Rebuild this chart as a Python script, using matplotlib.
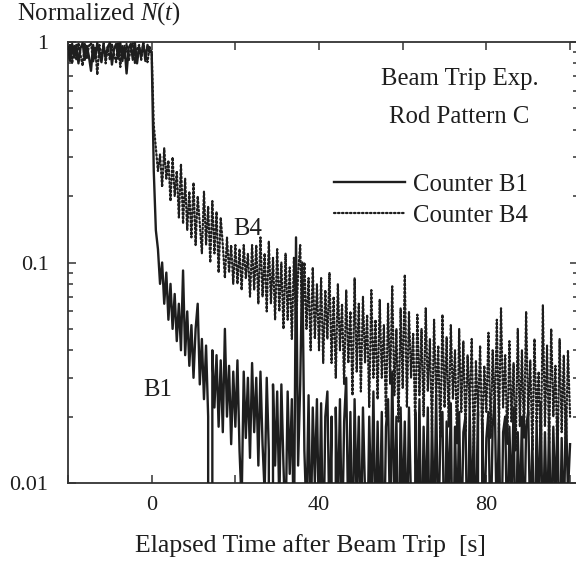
import numpy as np
import matplotlib
matplotlib.use("Agg")
import matplotlib.pyplot as plt
from matplotlib.ticker import FixedLocator, LogLocator, NullFormatter

plt.rcParams['font.family'] = ['Liberation Serif', 'DejaVu Serif']
plt.rcParams['mathtext.fontset'] = 'custom'
plt.rcParams['mathtext.rm'] = 'Liberation Serif'
plt.rcParams['mathtext.it'] = 'Liberation Serif:italic'

# time axis: -20 s .. 100 s, 0.5 s steps
time_s = np.arange(-20, 100.01, 0.5)

b1_pre = [0.95, 0.82, 0.98, 0.85, 0.97, 0.80, 0.94, 0.99, 0.83, 0.96,
          0.86, 0.74, 0.97, 0.84, 0.99, 0.88, 0.81, 0.97, 0.85, 0.95,
          0.99, 0.79, 0.93, 0.98, 0.84, 0.99, 0.82, 0.96, 0.72, 0.94,
          0.98, 0.83, 0.99, 0.80, 0.95, 0.86, 0.99, 0.82, 0.97, 0.90]
b4_pre = [0.84, 0.98, 0.80, 0.96, 0.83, 0.99, 0.87, 0.78, 0.98, 0.84,
          0.96, 0.99, 0.81, 0.95, 0.71, 0.97, 0.85, 0.99, 0.80, 0.95,
          0.83, 0.98, 0.88, 0.81, 0.99, 0.77, 0.96, 0.84, 0.98, 0.82,
          0.94, 0.99, 0.80, 0.93, 0.97, 0.83, 0.99, 0.88, 0.81, 0.95]

b1_post = [0.90, 0.26, 0.14, 0.115, 0.08, 0.10, 0.065, 0.09, 0.055, 0.08,
           0.05, 0.072, 0.044, 0.065, 0.04, 0.092, 0.038, 0.06, 0.034, 0.052,
           0.03, 0.05, 0.065, 0.028, 0.045, 0.024, 0.042, 0.02, 0.0, 0.04,
           0.022, 0.038, 0.018, 0.036, 0.017, 0.05, 0.02, 0.034, 0.015, 0.032,
           0.018, 0.036, 0.014, 0.008, 0.032, 0.016, 0.03, 0.013, 0.035, 0.017,
           0.03, 0.012, 0.032, 0.015, 0.009, 0.03, 0.014, 0.0, 0.028, 0.012,
           0.026, 0.008, 0.028, 0.012, 0.006, 0.026, 0.011, 0.024, 0.005, 0.13,
           0.012, 0.028, 0.10, 0.014, 0.007, 0.025, 0.005, 0.022, 0.01, 0.024,
           0.006, 0.023, 0.004, 0.02, 0.026, 0.006, 0.02, 0.0, 0.022, 0.007,
           0.024, 0.005, 0.019, 0.03, 0.006, 0.021, 0.004, 0.024, 0.008, 0.02,
           0.005, 0.022, 0.009, 0.004, 0.02, 0.007, 0.026, 0.005, 0.019, 0.006,
           0.021, 0.004, 0.018, 0.024, 0.006, 0.032, 0.007, 0.02, 0.003, 0.022,
           0.007, 0.019, 0.005, 0.022, 0.008, 0.0, 0.021, 0.006, 0.024, 0.004,
           0.018, 0.007, 0.022, 0.004, 0.02, 0.006, 0.025, 0.005, 0.017, 0.021,
           0.004, 0.019, 0.008, 0.023, 0.003, 0.018, 0.006, 0.021, 0.005, 0.017,
           0.02, 0.004, 0.022, 0.007, 0.018, 0.005, 0.021, 0.0, 0.019, 0.006,
           0.016, 0.021, 0.005, 0.018, 0.024, 0.006, 0.019, 0.004, 0.017, 0.02,
           0.005, 0.018, 0.008, 0.022, 0.004, 0.017, 0.007, 0.02, 0.005, 0.018,
           0.021, 0.006, 0.016, 0.004, 0.019, 0.007, 0.023, 0.005, 0.017, 0.006,
           0.019, 0.005, 0.018, 0.008, 0.02, 0.004, 0.016, 0.006, 0.022, 0.009,
           0.015]

b4_post = [0.90, 0.42, 0.33, 0.26, 0.31, 0.22, 0.33, 0.24, 0.29, 0.19,
           0.30, 0.20, 0.26, 0.16, 0.28, 0.15, 0.24, 0.14, 0.21, 0.13,
           0.23, 0.12, 0.20, 0.15, 0.11, 0.21, 0.12, 0.18, 0.10, 0.19,
           0.11, 0.17, 0.09, 0.16, 0.12, 0.085, 0.13, 0.09, 0.12, 0.08,
           0.12, 0.08, 0.115, 0.075, 0.12, 0.085, 0.11, 0.07, 0.12, 0.075,
           0.12, 0.065, 0.13, 0.07, 0.11, 0.06, 0.125, 0.065, 0.105, 0.055,
           0.115, 0.06, 0.10, 0.05, 0.11, 0.055, 0.095, 0.045, 0.105, 0.05,
           0.09, 0.12, 0.045, 0.10, 0.05, 0.085, 0.04, 0.095, 0.045, 0.08,
           0.04, 0.085, 0.035, 0.075, 0.045, 0.09, 0.035, 0.07, 0.03, 0.08,
           0.04, 0.065, 0.028, 0.075, 0.035, 0.06, 0.025, 0.085, 0.032, 0.065,
           0.026, 0.07, 0.035, 0.058, 0.022, 0.075, 0.03, 0.055, 0.024, 0.068,
           0.03, 0.052, 0.02, 0.065, 0.028, 0.078, 0.025, 0.05, 0.019, 0.062,
           0.027, 0.088, 0.022, 0.06, 0.03, 0.048, 0.018, 0.058, 0.025, 0.05,
           0.02, 0.062, 0.026, 0.045, 0.017, 0.055, 0.024, 0.042, 0.016, 0.058,
           0.022, 0.046, 0.018, 0.052, 0.024, 0.04, 0.015, 0.05, 0.021, 0.044,
           0.017, 0.038, 0.022, 0.045, 0.014, 0.036, 0.02, 0.042, 0.016, 0.034,
           0.021, 0.048, 0.016, 0.04, 0.02, 0.055, 0.017, 0.062, 0.022, 0.038,
           0.015, 0.044, 0.019, 0.035, 0.014, 0.05, 0.018, 0.04, 0.016, 0.06,
           0.02, 0.036, 0.014, 0.045, 0.019, 0.032, 0.013, 0.064, 0.018, 0.042,
           0.015, 0.05, 0.02, 0.034, 0.013, 0.045, 0.017, 0.038, 0.014, 0.04,
           0.02]

b1 = np.array(b1_pre + b1_post)
b4 = np.array(b4_pre + b4_post)

x_ticks = [-20, 0, 20, 40, 60, 80, 100]
x_labels = {0: '0', 40: '40', 80: '80'}
y_ticks = [0.01, 0.1, 1]
y_labels = ['0.01', '0.1', '1']

INK = '#1e1e1e'
fig = plt.figure(figsize=(5.76, 5.63), dpi=100)
ax = fig.add_axes([68/576, 1-483/563, (578-68)/576, (483-42)/563])

ax.plot(time_s, b4, color=INK, lw=1.6, ls=(0, (0.7, 1.1)), dash_capstyle='round',
        label='Counter B4', zorder=2)
ax.plot(time_s, b1, color=INK, lw=1.7, ls='-', label='Counter B1', zorder=3)

ax.set_yscale('log', nonpositive='clip')
ax.set_xlim(-20, 101.9)
ax.set_ylim(0.01, 1)

ax.xaxis.set_major_locator(FixedLocator(x_ticks))
ax.set_xticklabels([x_labels.get(v, '') for v in x_ticks])
ax.yaxis.set_major_locator(FixedLocator(y_ticks))
ax.set_yticklabels(y_labels)
ax.yaxis.set_minor_locator(LogLocator(base=10, subs=np.arange(2, 10)))
ax.yaxis.set_minor_formatter(NullFormatter())

ax.tick_params(which='both', direction='in', top=True, right=True, labelsize=16,
               colors='#333333', labelcolor=INK)
ax.tick_params(which='major', length=5.8, width=1.1)
ax.tick_params(which='minor', length=3.6, width=1.1)
ax.tick_params(axis='y', pad=14)
ax.tick_params(axis='x', pad=9)
for s in ax.spines.values():
    s.set_linewidth(1.3)
    s.set_color('#333333')

fig.text(310/576, 1-546/563, 'Elapsed Time after Beam Trip  [s]', fontsize=18.5,
         ha='center', va='center', color=INK)
fig.text(17/576, 1-14/563, r'Normalized $N$($t$)', fontsize=17.8, ha='left',
         va='center', color=INK)

ax.text(1.4, 0.0264, 'B1', fontsize=17.8, ha='center', va='center', color=INK)
ax.text(23.0, 0.142, 'B4', fontsize=17.8, ha='center', va='center', color=INK)

ax.text(0.768, 0.916, 'Beam Trip Exp.', transform=ax.transAxes, fontsize=17.8,
        ha='center', va='center', color=INK)
ax.text(0.768, 0.830, 'Rod Pattern C', transform=ax.transAxes, fontsize=17.8,
        ha='center', va='center', color=INK)

handles, labels = ax.get_legend_handles_labels()
leg = ax.legend(handles[::-1], labels[::-1], loc='center left', bbox_to_anchor=(0.521, 0.642),
                frameon=False, fontsize=17.8, handlelength=2.9, handletextpad=0.32,
                labelspacing=0.35, borderaxespad=0, borderpad=0)
for t in leg.get_texts():
    t.set_color(INK)

fig.savefig('out.png', dpi=100)
